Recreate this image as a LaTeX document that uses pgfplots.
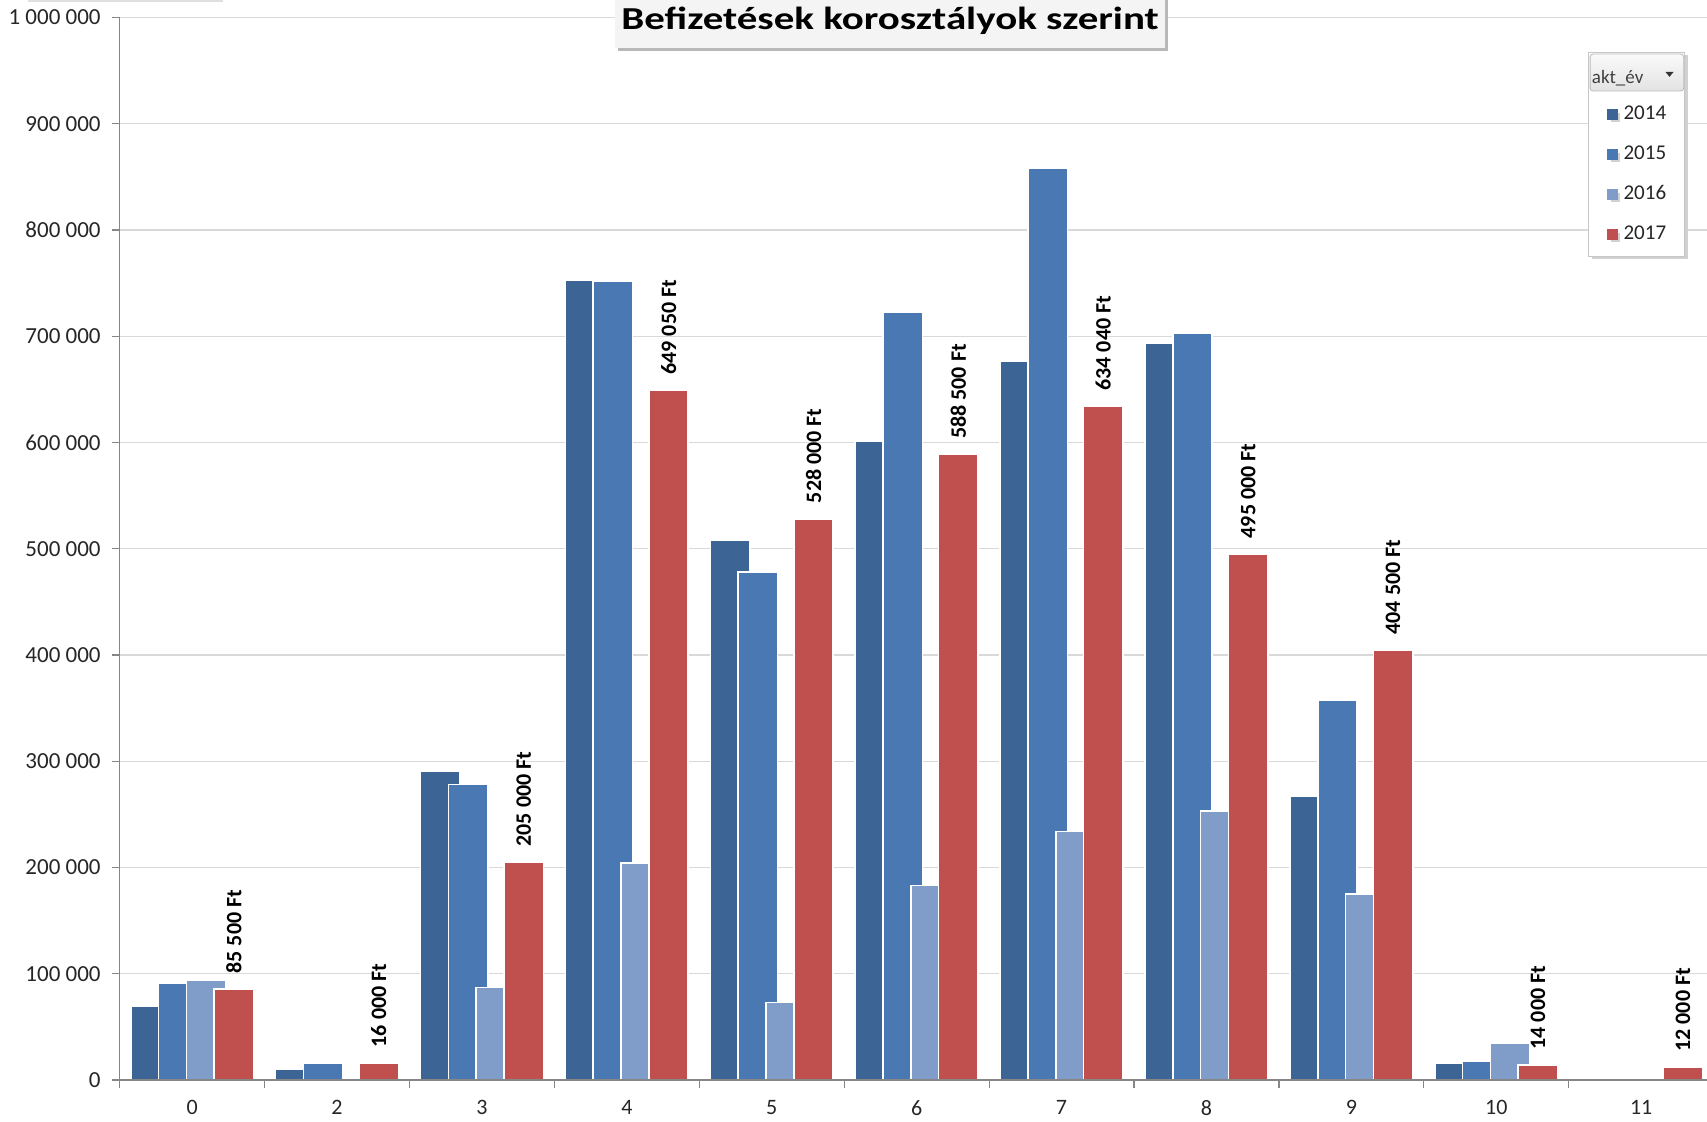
\documentclass[border=0pt]{standalone}
\usepackage{pgfplots}
\pgfplotsset{compat=1.18}
\usepackage{fontspec}
\setmainfont{Carlito}
\usetikzlibrary{shadows}
\definecolor{cA}{RGB}{60,100,149}
\definecolor{cB}{RGB}{73,120,178}
\definecolor{cC}{RGB}{127,157,200}
\definecolor{cD}{RGB}{192,80,77}
\definecolor{gridc}{RGB}{217,217,217}
\definecolor{axc}{RGB}{134,134,134}
\begin{document}
\begin{tikzpicture}
\path[use as bounding box] (-59.85pt,-20.5pt) rectangle (793.65pt,540pt);
\begin{axis}[
  scale only axis, width=796.95pt, height=531.3pt,
  xmin=-0.5, xmax=10.5, ymin=0, ymax=1000000,
  axis x line*=bottom, axis y line*=left,
  axis line style={draw=axc, line width=0.6pt},
  tick style={draw=axc, line width=0.6pt},
  tick align=outside, major tick length=4pt,
  xtick={-0.5,0.5,1.5,2.5,3.5,4.5,5.5,6.5,7.5,8.5,9.5,10.5},
  x tick label as interval,
  xticklabels={0,2,3,4,5,6,7,8,9,10,11},
  ytick={0,100000,200000,300000,400000,500000,600000,700000,800000,900000,1000000},
  scaled y ticks=false,
  /pgf/number format/assume math mode=true,
  /pgf/number format/fixed,
  /pgf/number format/precision=0,
  /pgf/number format/1000 sep={\ },
  ymajorgrids, major grid style={draw=gridc, line width=0.6pt},
  xticklabel style={font=\fontsize{11}{13}\selectfont, text=black!85, yshift=-2.8pt},
  yticklabel style={font=\fontsize{11.5}{13}\selectfont, text=black!85, xshift=-2pt},
  ybar, bar width=0.272,
  every axis plot/.append style={draw=white, line width=0.8pt},
  legend image code/.code={\fill[#1,draw=none] (0pt,-2.75pt) rectangle (5.5pt,2.75pt);},
  legend cell align=left,
  legend style={at={(axis description cs:0.9213,0.9675)}, anchor=north west,
    draw=gray!45, fill=white, inner xsep=9.25pt, inner ysep=1pt,
    row sep=0pt, column sep=2.75pt,
    general shadow={fill=black!18, shadow xshift=1.5pt, shadow yshift=-1.5pt},
    nodes={inner sep=0pt, minimum height=20pt, font=\fontsize{10.5}{12}\selectfont, text=black!85}},
  title={\scalebox{1.28}[1]{Befizetések korosztályok szerint}},
  title style={at={(axis description cs:0.4833,1)}, anchor=south, yshift=-21.3pt,
    fill=gray!9, font=\fontsize{16}{19}\selectfont\bfseries,
    text height=11.5pt, text depth=3.3pt, inner ysep=5.7pt, minimum width=274pt,
    general shadow={fill=black!28, shadow xshift=1.5pt, shadow yshift=-1.8pt}},
]
\addlegendimage{empty legend}
\addlegendentry{}
\addplot[fill=cA, bar shift=-0.288] coordinates {
  (0,69000) (1,10000) (2,291000) (3,753000) (4,508000) (5,601000)
  (6,676000) (7,693000) (8,267000) (9,16000)};
\addlegendentry{2014}
\addplot[fill=cB, bar shift=-0.096] coordinates {
  (0,91000) (1,16000) (2,278000) (3,752000) (4,478000) (5,723000)
  (6,858000) (7,703000) (8,357000) (9,18000)};
\addlegendentry{2015}
\addplot[fill=cC, bar shift=0.096] coordinates {
  (0,94000) (2,87000) (3,204000) (4,73000) (5,183000)
  (6,234000) (7,253000) (8,175000) (9,35000)};
\addlegendentry{2016}
\addplot[fill=cD, bar shift=0.288,
  nodes near coords={\pgfmathprintnumber{\pgfplotspointmeta}\ Ft},
  every node near coord/.append style={rotate=90, anchor=west, inner sep=0pt,
    inner xsep=7.5pt, text=black, font=\fontsize{11}{13}\selectfont\bfseries}]
  coordinates {
  (0,85500) (1,16000) (2,205000) (3,649050) (4,528000) (5,588500)
  (6,634040) (7,495000) (8,404500) (9,14000) (10,12000)};
\addlegendentry{2017}
\draw[axc, line width=0.6pt] (axis cs:-0.5,0) -- (axis cs:10.5,0);
\end{axis}
\draw[draw=gray!55, top color=gray!4, bottom color=gray!22, rounded corners=1.5pt]
  (735.2pt,494.5pt) rectangle (782pt,513pt);
\node[anchor=base west, inner sep=0pt, font=\fontsize{9.5}{11}\selectfont, text=black!75]
  at (735.9pt,498pt) {akt\_év};
\fill[black!80] (772.9pt,504pt) -- (776.9pt,504pt) -- (774.9pt,501.6pt) -- cycle;
\draw[gray!25, line width=1pt] (-45.85pt,539.6pt) -- (51.65pt,539.6pt);
\end{tikzpicture}
\end{document}
